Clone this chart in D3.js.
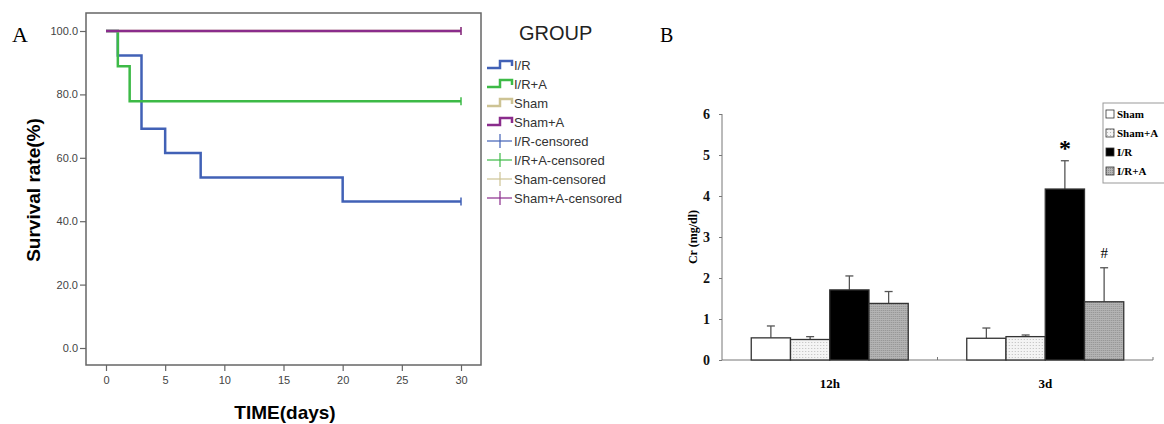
<!DOCTYPE html>
<html>
<head>
<meta charset="utf-8">
<script src="https://cdn.jsdelivr.net/npm/d3@7"></script>
<style>
  body { margin: 0; background: #fff; }
  svg { display: block; }
</style>
</head>
<body>
<svg class="chart" width="1164" height="424"></svg>
<script>
// ---- panel A data (Kaplan-Meier steps: [day, survival %]) ----
var survGroups = ["I/R", "I/R+A", "Sham", "Sham+A"];
var survColors = ["#4161b6", "#3dba47", "#cdc394", "#8a2c8c"];
var irSteps    = [[0, 100], [1, 92.3], [3, 69.2], [5, 61.5], [8, 53.8], [20, 46.2], [30, 46.2]];
var iraSteps   = [[0, 100], [1, 88.9], [2, 77.8], [30, 77.8]];
var shamSteps  = [[0, 100], [30, 100]];
var shamaSteps = [[0, 100], [30, 100]];
var survYTicks = [0, 20, 40, 60, 80, 100];
var survXTicks = [0, 5, 10, 15, 20, 25, 30];
var legendA = ["I/R", "I/R+A", "Sham", "Sham+A", "I/R-censored", "I/R+A-censored", "Sham-censored", "Sham+A-censored"];

// ---- panel B data (Cr mg/dl) ----
var times = ["12h", "3d"];
var crGroups = ["Sham", "Sham+A", "I/R", "I/R+A"];
var crMean = [[0.54, 0.50, 1.71, 1.38], [0.53, 0.57, 4.17, 1.42]];
var crErr  = [[0.29, 0.07, 0.34, 0.29], [0.25, 0.04, 0.69, 0.83]];
var crMarks = [["", "", "", ""], ["", "", "*", "#"]];
var crYTicks = [0, 1, 2, 3, 4, 5, 6];

var width = 1164, height = 424;
var chart = d3.select(".chart");
var sans = "'Liberation Sans', Arial, sans-serif";
var serif = "'Liberation Serif', 'Times New Roman', serif";

// ===================== panel A =====================
var xA = d3.scaleLinear().domain([0, 30]).range([106, 461]);
var yA = d3.scaleLinear().domain([0, 100]).range([348, 31]);
var boxA = {x0: 86, x1: 481, y0: 13, y1: 365};

chart.append("text").attr("x", 12).attr("y", 42)
  .style("font-family", serif).style("font-size", "22px").text("A");

chart.append("rect")
  .attr("x", boxA.x0).attr("y", boxA.y0)
  .attr("width", boxA.x1 - boxA.x0).attr("height", boxA.y1 - boxA.y0)
  .attr("fill", "none").attr("stroke", "#666").attr("stroke-width", 1.5);

var yAxisA = chart.append("g")
  .attr("transform", "translate(" + boxA.x0 + ",0)")
  .call(d3.axisLeft(yA).tickValues(survYTicks).tickFormat(d3.format(".1f")).tickSize(6).tickPadding(2));
var xAxisA = chart.append("g")
  .attr("transform", "translate(0," + boxA.y1 + ")")
  .call(d3.axisBottom(xA).tickValues(survXTicks).tickSize(6).tickPadding(5));
[yAxisA, xAxisA].forEach(function(ax) {
  ax.select(".domain").remove();
  ax.selectAll("line").attr("stroke", "#666").attr("stroke-width", 1.2);
  ax.selectAll("text").style("font-family", sans).style("font-size", "11px").attr("fill", "#444");
});

chart.append("text")
  .attr("x", 285).attr("y", 419).attr("text-anchor", "middle")
  .style("font-family", sans).style("font-size", "19px").style("font-weight", "bold")
  .text("TIME(days)");
chart.append("text")
  .attr("transform", "translate(40,190) rotate(-90)").attr("text-anchor", "middle")
  .style("font-family", sans).style("font-size", "19px").style("font-weight", "bold")
  .text("Survival rate(%)");

var stepLine = d3.line()
  .x(function(d) { return xA(d[0]); })
  .y(function(d) { return yA(d[1]); })
  .curve(d3.curveStepAfter);

var allSteps = [irSteps, iraSteps, shamSteps, shamaSteps];
allSteps.forEach(function(steps, i) {
  chart.append("path").datum(steps)
    .attr("d", stepLine)
    .attr("fill", "none")
    .attr("stroke", survColors[i])
    .attr("stroke-width", 2.5);
  var last = steps[steps.length - 1];
  chart.append("line")
    .attr("x1", xA(last[0])).attr("x2", xA(last[0]))
    .attr("y1", yA(last[1]) - 4).attr("y2", yA(last[1]) + 4)
    .attr("stroke", survColors[i]).attr("stroke-width", 1.5);
});

// legend A
chart.append("text").attr("x", 519).attr("y", 40)
  .style("font-family", sans).style("font-size", "20px").attr("fill", "#222").text("GROUP");
var legA = chart.append("g").selectAll("g")
  .data(legendA).enter().append("g")
  .attr("transform", function(d, i) { return "translate(0," + (65 + i * 19) + ")"; });
legA.each(function(d, i) {
  var g = d3.select(this);
  var c = survColors[i % 4];
  if (i < 4) {
    g.append("path").attr("d", "M487,3H500V-4H512V1")
      .attr("fill", "none").attr("stroke", c).attr("stroke-width", 2.5);
  } else {
    g.append("line").attr("x1", 487).attr("x2", 512).attr("y1", 0).attr("y2", 0)
      .attr("stroke", c).attr("stroke-width", 1.2);
    g.append("line").attr("x1", 500).attr("x2", 500).attr("y1", -7).attr("y2", 7)
      .attr("stroke", c).attr("stroke-width", 1.2);
  }
  g.append("text").attr("x", 514).attr("y", 5)
    .style("font-family", sans).style("font-size", "13px").attr("fill", "#333").text(d);
});

// ===================== panel B =====================
chart.append("text").attr("x", 660).attr("y", 42)
  .style("font-family", serif).style("font-size", "20px").text("B");

var x0 = d3.scaleBand().domain(times).range([722, 1153]);
var x1 = d3.scaleBand().domain(crGroups).range([0, 157]);
var yB = d3.scaleLinear().domain([0, 6]).range([360, 114]);

var defs = chart.append("defs");
var p1 = defs.append("pattern").attr("id", "dots").attr("width", 3).attr("height", 3)
  .attr("patternUnits", "userSpaceOnUse");
p1.append("rect").attr("width", 3).attr("height", 3).attr("fill", "#f4f4f4");
p1.append("rect").attr("width", 1).attr("height", 1).attr("fill", "#bbb");
var p2 = defs.append("pattern").attr("id", "grey").attr("width", 2).attr("height", 2)
  .attr("patternUnits", "userSpaceOnUse");
p2.append("rect").attr("width", 2).attr("height", 2).attr("fill", "#b4b4b4");
p2.append("rect").attr("width", 1).attr("height", 1).attr("fill", "#8e8e8e");
var crFills = ["#fff", "url(#dots)", "#000", "url(#grey)"];

// axes
chart.append("line").attr("x1", 722).attr("x2", 722).attr("y1", yB(6)).attr("y2", yB(0))
  .attr("stroke", "#777").attr("stroke-width", 1);
chart.append("line").attr("x1", 722).attr("x2", 1153).attr("y1", yB(0)).attr("y2", yB(0))
  .attr("stroke", "#777").attr("stroke-width", 1);
var yAxisB = chart.append("g").attr("transform", "translate(722,0)")
  .call(d3.axisLeft(yB).tickValues(crYTicks).tickFormat(d3.format("d")).tickSize(3).tickPadding(9));
yAxisB.select(".domain").remove();
yAxisB.selectAll("line").attr("stroke", "#777");
yAxisB.selectAll("text").style("font-family", serif).style("font-size", "14px")
  .style("font-weight", "bold").attr("fill", "#111");
// category boundary ticks
[x0("3d"), x0.range()[1]].forEach(function(px) {
  chart.append("line").attr("x1", px).attr("x2", px).attr("y1", yB(0) - 3).attr("y2", yB(0))
    .attr("stroke", "#777");
});
times.forEach(function(t) {
  chart.append("text").attr("x", x0(t) + x0.bandwidth() / 2).attr("y", 388)
    .attr("text-anchor", "middle")
    .style("font-family", serif).style("font-size", "13px").style("font-weight", "bold")
    .text(t);
});
chart.append("text")
  .attr("transform", "translate(697,237) rotate(-90)").attr("text-anchor", "middle")
  .style("font-family", serif).style("font-size", "12px").style("font-weight", "bold")
  .text("Cr (mg/dl)");

times.forEach(function(t, ti) {
  var off = x0(t) + (x0.bandwidth() - 157) / 2;
  var g = chart.append("g").attr("transform", "translate(" + off + ",0)");
  crGroups.forEach(function(grp, gi) {
    var bx = x1(grp), bw = x1.bandwidth();
    var cx = bx + bw / 2;
    var top = yB(crMean[ti][gi] + crErr[ti][gi]);
    g.append("line").attr("x1", cx).attr("x2", cx)
      .attr("y1", yB(crMean[ti][gi])).attr("y2", top)
      .attr("stroke", "#555").attr("stroke-width", 1.3);
    g.append("line").attr("x1", cx - 4).attr("x2", cx + 4).attr("y1", top).attr("y2", top)
      .attr("stroke", "#555").attr("stroke-width", 1.3);
    g.append("rect")
      .attr("x", bx).attr("y", yB(crMean[ti][gi]))
      .attr("width", bw).attr("height", yB(0) - yB(crMean[ti][gi]))
      .attr("fill", crFills[gi]).attr("stroke", "#333").attr("stroke-width", 1.3);
    if (crMarks[ti][gi]) {
      g.append("text").attr("x", cx).attr("y", top - (crMarks[ti][gi] == "*" ? 5 : 10))
        .attr("text-anchor", "middle")
        .style("font-family", serif)
        .style("font-size", crMarks[ti][gi] == "*" ? "24px" : "15px")
        .style("font-weight", crMarks[ti][gi] == "*" ? "bold" : "normal")
        .text(crMarks[ti][gi]);
    }
  });
});

// legend B
chart.append("rect").attr("x", 1103).attr("y", 103).attr("width", 70).attr("height", 80)
  .attr("fill", "#fff").attr("stroke", "#999").attr("stroke-width", 1);
crGroups.forEach(function(grp, gi) {
  var ly = 114 + gi * 19;
  chart.append("rect").attr("x", 1106).attr("y", ly - 4).attr("width", 8).attr("height", 8)
    .attr("fill", crFills[gi]).attr("stroke", "#333").attr("stroke-width", 0.8);
  chart.append("text").attr("x", 1117).attr("y", ly + 4)
    .style("font-family", serif).style("font-size", "11px").style("font-weight", "bold")
    .text(grp);
});
</script>
</body>
</html>
